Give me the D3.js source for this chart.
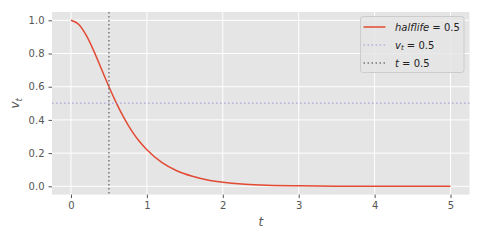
<!DOCTYPE html>
<html>
<head>
<meta charset="utf-8">
<script src="https://cdn.jsdelivr.net/npm/d3@7"></script>
<style>
  body { margin: 0; background: #fff; }
  text { font-family: "DejaVu Sans", sans-serif; }
</style>
</head>
<body>
<script>
// values
var tVals = [0, 0.1, 0.2, 0.3, 0.4, 0.5, 0.6, 0.7, 0.8, 0.9, 1.0, 1.2, 1.4, 1.6, 1.8, 2.0, 2.25, 2.5, 3.0, 3.5, 4.0, 4.5, 5.0];
var vVals = [1.0, 0.976, 0.91, 0.816, 0.708, 0.60, 0.50, 0.411, 0.334, 0.271, 0.22, 0.142, 0.092, 0.06, 0.038, 0.025, 0.014, 0.008, 0.003, 0.001, 0.0003, 0.0001, 0.0];
var xTicks = [0, 1, 2, 3, 4, 5];
var yTicks = [0.0, 0.2, 0.4, 0.6, 0.8, 1.0];
var hLine = 0.5;   // v_t = 0.5
var vLine = 0.5;   // t = 0.5
var legendLabels = ["halflife", "v", "t"];

var W = 480, H = 240;
var pL = 52, pR = 469.5, pT = 12, pB = 194.6;

var svg = d3.select("body").append("svg")
    .attr("width", W)
    .attr("height", H);

var x = d3.scaleLinear().domain([-0.25, 5.25]).range([pL, pR]);
var y = d3.scaleLinear().domain([-0.05, 1.05]).range([pB, pT]);

// background
svg.append("rect")
    .attr("x", pL).attr("y", pT)
    .attr("width", pR - pL).attr("height", pB - pT)
    .attr("fill", "#E5E5E5");

// grid
svg.append("g").selectAll("line").data(xTicks).enter().append("line")
    .attr("x1", function(d) { return x(d); }).attr("x2", function(d) { return x(d); })
    .attr("y1", pT).attr("y2", pB)
    .attr("stroke", "#fff").attr("stroke-width", 1);
svg.append("g").selectAll("line").data(yTicks).enter().append("line")
    .attr("y1", function(d) { return y(d); }).attr("y2", function(d) { return y(d); })
    .attr("x1", pL).attr("x2", pR)
    .attr("stroke", "#fff").attr("stroke-width", 1);

// axes
var xAxis = svg.append("g")
    .attr("transform", "translate(0," + pB + ")")
    .call(d3.axisBottom(x).tickValues(xTicks).tickSize(3.5).tickPadding(4).tickFormat(d3.format("d")));
var yAxis = svg.append("g")
    .attr("transform", "translate(" + pL + ",0)")
    .call(d3.axisLeft(y).tickValues(yTicks).tickSize(3.5).tickPadding(4).tickFormat(d3.format(".1f")));
[xAxis, yAxis].forEach(function(a) {
    a.select(".domain").remove();
    a.selectAll(".tick line").attr("stroke", "#555").attr("stroke-width", 1);
    a.selectAll(".tick text").attr("fill", "#555").attr("font-size", 10)
        .attr("font-family", "DejaVu Sans");
});

// curve
var pts = tVals.map(function(t, i) { return [t, vVals[i]]; });
var line = d3.line()
    .x(function(d) { return x(d[0]); })
    .y(function(d) { return y(d[1]); })
    .curve(d3.curveMonotoneX);

svg.append("path")
    .datum(pts)
    .attr("d", line)
    .attr("fill", "none")
    .attr("stroke", "#E24A33")
    .attr("stroke-width", 1.5);

// reference lines
svg.append("line")
    .attr("x1", pL).attr("x2", pR)
    .attr("y1", y(hLine)).attr("y2", y(hLine))
    .attr("stroke", "#988ED5").attr("stroke-opacity", 0.6)
    .attr("stroke-width", 1.5).attr("stroke-dasharray", "1.5,2.5");
svg.append("line")
    .attr("x1", x(vLine)).attr("x2", x(vLine))
    .attr("y1", pT).attr("y2", pB)
    .attr("stroke", "#777777")
    .attr("stroke-width", 1.5).attr("stroke-dasharray", "1.5,2.5");

// axis labels
svg.append("text")
    .attr("x", (pL + pR) / 2).attr("y", 226)
    .attr("text-anchor", "middle")
    .attr("font-size", 12).attr("fill", "#555")
    .attr("font-style", "italic")
    .text("t");

var yl = svg.append("text")
    .attr("transform", "translate(19," + ((pT + pB) / 2) + ") rotate(-90)")
    .attr("text-anchor", "middle")
    .attr("font-size", 12).attr("fill", "#555");
yl.append("tspan").attr("font-style", "italic").text("v");
yl.append("tspan").attr("font-style", "italic").attr("font-size", 8.5).attr("dy", 2.5).text("t");

// legend
var lg = svg.append("g");
lg.append("rect")
    .attr("x", 360.5).attr("y", 16.5)
    .attr("width", 103.5).attr("height", 56)
    .attr("rx", 2.5)
    .attr("fill", "#E5E5E5").attr("fill-opacity", 0.8)
    .attr("stroke", "#CCCCCC").attr("stroke-width", 1);

var rows = [27, 45, 63];
lg.append("line").attr("x1", 363.5).attr("x2", 385.5).attr("y1", rows[0]).attr("y2", rows[0])
    .attr("stroke", "#E24A33").attr("stroke-width", 1.5);
lg.append("line").attr("x1", 363.5).attr("x2", 385.5).attr("y1", rows[1]).attr("y2", rows[1])
    .attr("stroke", "#988ED5").attr("stroke-opacity", 0.6)
    .attr("stroke-width", 1.5).attr("stroke-dasharray", "1.5,2.5");
lg.append("line").attr("x1", 363.5).attr("x2", 385.5).attr("y1", rows[2]).attr("y2", rows[2])
    .attr("stroke", "#777777")
    .attr("stroke-width", 1.5).attr("stroke-dasharray", "1.5,2.5");

var t1 = lg.append("text").attr("x", 395).attr("y", rows[0] + 3.7).attr("font-size", 10).attr("fill", "#222");
t1.append("tspan").attr("font-style", "italic").text(legendLabels[0]);
t1.append("tspan").text(" = 0.5");

var t2 = lg.append("text").attr("x", 395).attr("y", rows[1] + 3.7).attr("font-size", 10).attr("fill", "#222");
t2.append("tspan").attr("font-style", "italic").text(legendLabels[1]);
t2.append("tspan").attr("font-style", "italic").attr("font-size", 7).attr("dy", 1.5).text("t");
t2.append("tspan").attr("dy", -1.5).text(" = 0.5");

var t3 = lg.append("text").attr("x", 395).attr("y", rows[2] + 3.7).attr("font-size", 10).attr("fill", "#222");
t3.append("tspan").attr("font-style", "italic").text(legendLabels[2]);
t3.append("tspan").text(" = 0.5");
</script>
</body>
</html>
